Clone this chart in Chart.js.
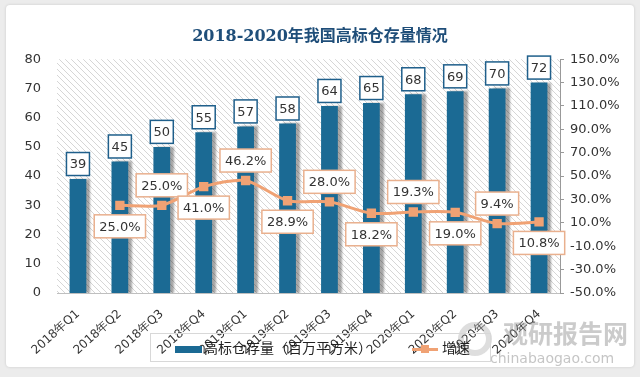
<!DOCTYPE html>
<html>
<head>
<meta charset="utf-8">
<script src="https://cdn.jsdelivr.net/npm/chart.js@4"></script>
<style>
html,body{margin:0;padding:0;background:#ececec;}
#card{position:absolute;left:6px;top:5px;width:628px;height:362px;background:#fff;border-radius:4px;box-shadow:0 0 3px rgba(0,0,0,0.15);}
#wrap{position:absolute;left:0;top:0;width:640px;height:377px;}
#legend{position:absolute;left:150px;top:333px;width:339px;height:27px;border:1px solid #d8d8d8;font-family:"Noto Sans CJK SC","Noto Sans",sans-serif;font-size:14px;color:#222;}
#legend .item{position:absolute;top:3px;line-height:20px;white-space:nowrap;}
#wm{position:absolute;left:503px;top:314px;font-family:"Noto Sans CJK SC",sans-serif;color:rgba(140,140,140,0.45);font-weight:bold;font-size:25px;}
#wm2{position:absolute;left:490px;top:350px;font-family:"DejaVu Sans",sans-serif;color:rgba(140,140,140,0.5);font-size:14px;}
#logo{position:absolute;left:458px;top:322px;width:34px;height:34px;border-radius:50%;border:6px solid rgba(160,160,160,0.35);box-sizing:border-box;}
</style>
</head>
<body>
<div id="card"></div>
<div id="wrap"><canvas id="c" width="640" height="377"></canvas></div>
<div id="logo"></div>
<div id="wm">观研报告网</div>
<div id="wm2">chinabaogao.com</div>
<div id="legend">
  <div class="item" style="left:24px;"><span style="display:inline-block;width:27px;height:7px;background:#1b6a94;vertical-align:middle;margin-right:2px;"></span>高标仓存量（百万平方米）</div>
  <div class="item" style="left:261px;"><span style="display:inline-block;position:relative;width:26px;height:3px;background:#f0a274;vertical-align:middle;margin-right:4px;"><span style="position:absolute;left:9px;top:-3px;width:8px;height:8px;background:#f0a274;"></span></span>增速</div>
</div>
<script>
const categories = ["2018年Q1","2018年Q2","2018年Q3","2018年Q4","2019年Q1","2019年Q2","2019年Q3","2019年Q4","2020年Q1","2020年Q2","2020年Q3","2020年Q4"];
const stockValues = [39,45,50,55,57,58,64,65,68,69,70,72];
const growthValues = [null,25.0,25.0,41.0,46.2,28.9,28.0,18.2,19.3,19.0,9.4,10.8];
const leftTicks = [0,10,20,30,40,50,60,70,80];
const rightTicks = [-50,-30,-10,10,30,50,70,90,110,130,150];

const BAR = '#1b6a94';
const ORANGE = '#f0a274';

function makeHatch(ctx){
  const p = document.createElement('canvas');
  p.width = 6; p.height = 6;
  const g = p.getContext('2d');
  g.fillStyle = '#ffffff'; g.fillRect(0,0,6,6);
  g.strokeStyle = '#d6d6d6'; g.lineWidth = 1;
  g.beginPath();
  g.moveTo(0,0); g.lineTo(6,6);
  g.moveTo(-3,3); g.lineTo(3,9);
  g.moveTo(3,-3); g.lineTo(9,3);
  g.stroke();
  return ctx.createPattern(p,'repeat');
}

const plotBg = {
  id:'plotBg',
  beforeDatasetsDraw(chart){
    const {ctx, chartArea:a} = chart;
    ctx.save();
    ctx.fillStyle = makeHatch(ctx);
    ctx.fillRect(a.left, a.top, a.right-a.left, a.bottom-a.top);
    ctx.restore();
  },
  beforeDatasetDraw(chart, args){
    if(args.index===0){
      chart.ctx.save();
      chart.ctx.shadowColor='rgba(0,0,0,0.35)';
      chart.ctx.shadowOffsetX=4;
      chart.ctx.shadowOffsetY=0;
      chart.ctx.shadowBlur=2;
    }
  },
  afterDatasetDraw(chart, args){
    if(args.index===0) chart.ctx.restore();
  }
};

function box(ctx, cx, cy, w, h, border, text){
  ctx.fillStyle='#fff';
  ctx.fillRect(cx-w/2, cy-h/2, w, h);
  ctx.strokeStyle=border; ctx.lineWidth=1.5;
  ctx.strokeRect(cx-w/2, cy-h/2, w, h);
  ctx.fillStyle='#333';
  ctx.fillText(text, cx, cy+1);
}

const labels = {
  id:'labels',
  afterDatasetsDraw(chart){
    const ctx = chart.ctx;
    ctx.save();
    ctx.font = '13px "DejaVu Sans", sans-serif';
    ctx.textAlign='center'; ctx.textBaseline='middle';
    const m0 = chart.getDatasetMeta(0);
    m0.data.forEach((el,i)=>{
      box(ctx, el.x, el.y-15, 23, 23, '#1f5f8b', String(stockValues[i]));
    });
    const m1 = chart.getDatasetMeta(1);
    m1.data.forEach((el,i)=>{
      const v = growthValues[i];
      if(v===null) return;
      const t = v.toFixed(1)+'%';
      const w = ctx.measureText(t).width + 10;
      const dy = (i%2===1) ? 21 : -20;
      box(ctx, el.x, el.y+dy, w, 23, '#e9b08e', t);
    });
    ctx.restore();
  }
};

new Chart(document.getElementById('c'), {
  data:{
    labels: categories,
    datasets:[
      {type:'bar', label:'高标仓存量（百万平方米）', data: stockValues, backgroundColor: BAR, borderWidth:0, yAxisID:'y', categoryPercentage:1, barPercentage:0.4, order:2},
      {type:'line', label:'增速', data: growthValues, borderColor: ORANGE, backgroundColor: ORANGE, borderWidth:3, pointStyle:'rect', pointRadius:4.5, pointBackgroundColor:ORANGE, pointBorderColor:ORANGE, tension:0.25, yAxisID:'y1', order:1, spanGaps:false}
    ]
  },
  options:{
    responsive:false, animation:false,
    layout:{padding:{left:0,right:0,top:0,bottom:0}},
    plugins:{
      legend:{display:false},
      tooltip:{enabled:false},
      title:{display:true, text:'2018-2020年我国高标仓存量情况', color:'#1f4e79', font:{family:'"DejaVu Serif", "Noto Sans CJK SC", serif', size:16, weight:'bold'}, padding:{top:27,bottom:13}}
    },
    scales:{
      x:{
        grid:{display:false, drawTicks:false},
        border:{display:true, color:'#bfbfbf', width:1},
        ticks:{color:'#333', font:{family:'"DejaVu Sans", sans-serif', size:12}, maxRotation:42, minRotation:42, padding:14},
        afterFit(s){ s.height = 84; }
      },
      y:{
        position:'left', min:0, max:80,
        afterBuildTicks(s){ s.ticks = leftTicks.map(v=>({value:v})); },
        grid:{display:false},
        border:{display:false},
        ticks:{color:'#333', font:{family:'"DejaVu Sans", sans-serif', size:13}, padding:8, callback:v=>v},
        afterFit(s){ s.width = 57; }
      },
      y1:{
        position:'right', min:-50, max:150,
        afterBuildTicks(s){ s.ticks = rightTicks.map(v=>({value:v})); },
        grid:{drawOnChartArea:false, drawTicks:true, tickLength:4, color:'#999'},
        border:{display:true, color:'#999'},
        ticks:{color:'#333', font:{family:'"DejaVu Sans", sans-serif', size:13}, padding:6, callback:v=>v.toFixed(1)+'%'},
        afterFit(s){ s.width = 80; }
      }
    }
  },
  plugins:[plotBg, labels]
});
</script>
</body>
</html>
